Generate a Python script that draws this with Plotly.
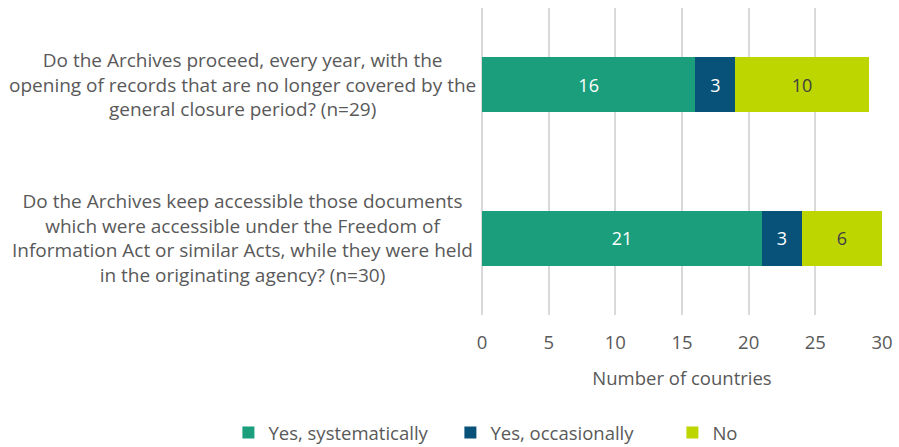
import plotly.graph_objects as go

questions = [
    "Do the Archives proceed, every year, with the<br>opening of records that are no longer covered by the<br>general closure period? (n=29)",
    "Do the Archives keep accessible those documents<br>which were accessible under the Freedom of<br>Information Act or similar Acts, while they were held<br>in the originating agency? (n=30)",
]
cats = ["Q1", "Q2"]
yes_systematically = [16, 21]
yes_occasionally = [3, 3]
no = [10, 6]
series_names = ["Yes, systematically", "Yes, occasionally", "No"]
tick_vals = [0, 5, 10, 15, 20, 25, 30]

colors = ["#1b9e7c", "#08527a", "#bed600"]
text_colors = ["white", "white", "#404040"]
FONT = "Open Sans"
GRAY = "#595959"

fig = go.Figure()
for name, vals, c, tc in zip(series_names, [yes_systematically, yes_occasionally, no], colors, text_colors):
    fig.add_trace(go.Bar(
        y=cats, x=vals, name=name, orientation="h",
        marker=dict(color=c, line=dict(width=0)),
        text=[str(v) for v in vals], textposition="inside", insidetextanchor="middle",
        textfont=dict(color=tc, size=18, family=FONT),
        hoverinfo="skip",
    ))

for cat, q in zip(cats, questions):
    fig.add_annotation(x=-0.6, xref="paper", y=cat, yref="y", text=q, showarrow=False,
                       xanchor="center", align="center",
                       font=dict(size=19, color=GRAY, family=FONT))

fig.update_layout(
    barmode="stack", bargap=0.64,
    width=899, height=447,
    margin=dict(l=482, r=17, t=8, b=132, autoexpand=False),
    paper_bgcolor="white", plot_bgcolor="white",
    font=dict(family=FONT, color=GRAY, size=18.5),
    showlegend=True,
    legend=dict(orientation="h", x=-0.634, xanchor="left",
                y=-0.384, yanchor="middle",
                font=dict(size=18.5, color=GRAY, family=FONT), traceorder="normal",
                entrywidth=177, entrywidthmode="pixels", itemwidth=30),
    uniformtext=dict(minsize=10, mode="show"),
)
fig.update_xaxes(range=[0, 30], tickvals=tick_vals, showgrid=True, gridcolor="#d9d9d9", gridwidth=2,
                 zeroline=True, zerolinecolor="#d9d9d9", zerolinewidth=2, showline=False,
                 ticks="", ticklabelstandoff=14,
                 title=dict(text="Number of countries", standoff=19, font=dict(size=18.5, color=GRAY)),
                 tickfont=dict(size=18.5, color=GRAY))
fig.update_yaxes(autorange="reversed", showticklabels=False, showgrid=False, showline=False, ticks="")

fig.write_html("out.html")
